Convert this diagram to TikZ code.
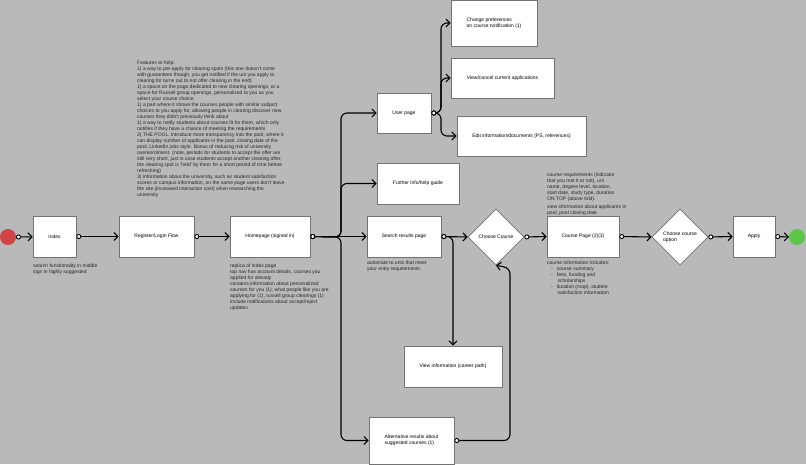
\documentclass[tikz,border=0pt]{standalone}
\usepackage{fontspec}
\setmainfont{Liberation Sans}
\usetikzlibrary{arrows.meta,shapes.geometric}
\definecolor{bg}{HTML}{B9B9B9}
\definecolor{startc}{HTML}{D04545}
\definecolor{endc}{HTML}{5CC64A}
\begin{document}
\begin{tikzpicture}[x=1pt,y=-1pt,
 box/.style={draw=black!55,fill=white,line width=0.6pt,font=\fontsize{5}{6}\selectfont,align=left,inner sep=0},
 dia/.style={diamond,draw=black!55,fill=white,line width=0.6pt,minimum width=56pt,minimum height=56pt,inner sep=0,font=\fontsize{5}{6}\selectfont,align=left},
 note/.style={anchor=north west,font=\fontsize{5}{6}\selectfont,align=left,inner sep=0,text=black!85},
 con/.style={line width=1.1pt,rounded corners=6pt,{Circle[open,length=5pt,width=5pt,fill=white,line width=0.9pt]}-{Straight Barb[length=4pt,width=8pt]}},
 bul/.style={}]
\fill[bg] (0,0) rectangle (806,464);
\useasboundingbox (0,0) rectangle (806,464);
\fill[startc] (8,237) circle (8);
\coordinate (s) at (16,237);
\fill[endc] (797,237) circle (8) coordinate (e);
\node[box,minimum width=43pt,minimum height=41pt] (idx) at (54.5,236.5) {Index};
\node[box,minimum width=75pt,minimum height=41pt] (reg) at (156.5,236.5) {Register/Login Flow};
\node[box,minimum width=80pt,minimum height=41pt] (home) at (270,236.5) {Homepage (signed in)};
\node[box,minimum width=54pt,minimum height=40pt] (user) at (404,113) {User page};
\node[box,minimum width=82pt,minimum height=41pt] (info) at (418,183.5) {Further info/help guide};
\node[box,minimum width=74pt,minimum height=41pt] (search) at (404,236.5) {Search results page};
\node[dia] (cc) at (496,237) {Choose Course};
\node[box,minimum width=72pt,minimum height=41pt] (cp) at (583,236.5) {Course Page (2)(3)};
\node[dia] (co) at (680,237) {Choose course\\option};
\node[box,minimum width=42pt,minimum height=41pt] (apply) at (754,236.5) {Apply};
\node[box,minimum width=86pt,minimum height=46pt] (pref) at (494,23) {Change preferences\\on course notification (1)};
\node[box,minimum width=103pt,minimum height=40pt] (view) at (502.5,78) {View/cancel current applications};
\node[box,minimum width=129pt,minimum height=40pt] (edit) at (521.5,136) {Edit information/documents (PS, references)};
\node[box,minimum width=98pt,minimum height=41pt] (career) at (453,366.5) {View information (career path)};
\node[box,minimum width=85pt,minimum height=47pt] (alt) at (411.5,440.5) {Alternative results about\\suggested courses (1)};
% connectors
\draw[con] (s) -- (idx);
\draw[con] (idx) -- (reg);
\draw[con] (reg) -- (home);
\draw[con] (home.east) -- (341,237) |- (user.west);
\draw[con] (home.east) -- (341,237) |- (info.west);
\draw[con] (home.east) -- (search.west);
\draw[con] (home.east) -- (341,237) |- (alt.west);
\draw[con] (user.east) -- (441,113) |- (pref.west);
\draw[con] (user.east) -- (441,113) |- (view.west);
\draw[con] (user.east) -- (441,113) |- (edit.west);
\draw[con] (search.east) -- (cc.west);
\draw[con] (search.east) -| (453,346) -- (career.north);
\draw[con] (alt.east) -| (510,268) -- (cc.south);
\draw[con] (cc.east) -- (cp.west);
\draw[con] (cp.east) -- (co.west);
\draw[con] (co.east) -- (apply.west);
\draw[con] (apply.east) -- (789,237);
% notes
\node[note] (n1) at (137,61) {Features to help:\\
1) a way to pre-apply for clearing spots (this one doesn't come\\
with guarantees though, you get notified if the uni you apply to\\
clearing for turns out to not offer clearing in the end)\\
1) a space on the page dedicated to new clearing openings, or a\\
space for Russell group openings, personalized to you as you\\
select your course choice\\
1) a part where it shows the courses people with similar subject\\
choices to you apply for, allowing people in clearing discover new\\
courses they didn't previously think about\\
1) a way to notify students about courses fit for them, which only\\
notifies if they have a chance of meeting the requirements\\
2) THE POOL. introduce more transparency into the pool, where it\\
can display number of applicants in the pool, closing date of the\\
pool, LinkedIn jobs style. Bonus of reducing risk of university\\
overenrolment. (note, periods for students to accept the offer are\\
still very short, just in case students accept another clearing offer,\\
the clearing spot is 'held' by them for a short period of time before\\
refreshing)\\
3) information about the university, such as student satisfaction\\
scores or campus information, on the same page users don't leave\\
the site (increased interaction cost) when researching the\\
university};
\node[note] (n2) at (33,264) {search functionality in middle\\sign in highly suggested};
\node[note] (n3) at (230,264) {replica of index page\\top nav has account details, courses you\\applied for already\\contains information about personalized\\courses for you (1), what people like you are\\applying for (1), russell group clearings (1)\\include notifications about accept/reject\\updates};
\node[note] (n4) at (367,261) {automate to unis that meet\\your entry requirements.};
\node[note] (n5) at (547,173) {course requirements (indicator\\that you met it or not), uni\\name, degree level, location,\\start date, study type, duration\\ON TOP (above fold).};
\node[note] (n6) at (547,205) {view information about applicants in\\pool, pool closing date};
\node[note] (n7) at (547,261) {course information includes:\\
\hspace*{4pt}-\hspace{4pt}course summary\\
\hspace*{4pt}-\hspace{4pt}fees, funding and\\
\hspace*{10.5pt}scholarships\\
\hspace*{4pt}-\hspace{4pt}location (map), student\\
\hspace*{10.5pt}satisfaction information};
\end{tikzpicture}
\end{document}
